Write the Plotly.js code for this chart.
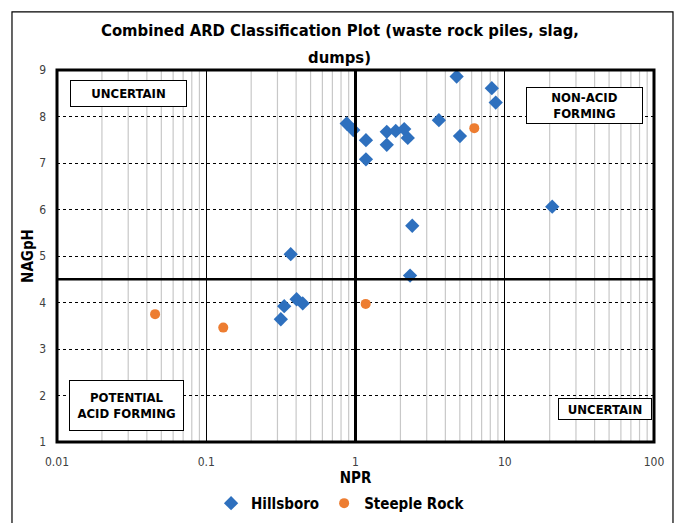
<!DOCTYPE html>
<html>
<head>
<meta charset="utf-8">
<script src="https://cdn.plot.ly/plotly-3.0.1.min.js"></script>
<style>html,body{margin:0;padding:0;background:#fff;}#chart{width:677px;height:523px;}</style>
</head>
<body>
<div id="chart"></div>
<script>
// ---- Data ----
const hillsboroNPR   = [0.873, 0.966, 1.175, 1.175, 1.62, 1.62, 1.86, 2.12, 2.24, 3.62, 4.76, 5.01, 8.19, 8.70, 20.8, 2.40, 2.32, 0.368, 0.333, 0.403, 0.443, 0.316];
const hillsboroNAGpH = [7.85, 7.71, 7.49, 7.08, 7.39, 7.67, 7.69, 7.73, 7.54, 7.92, 8.86, 7.58, 8.61, 8.30, 6.06, 5.65, 4.58, 5.04, 3.92, 4.07, 3.98, 3.64];
const steepleNPR     = [6.25, 1.17, 0.130, 0.0454];
const steepleNAGpH   = [7.75, 3.97, 3.46, 3.75];
const xTickVals = [0.01, 0.1, 1, 10, 100];
const xTickText = ['0.01', '0.1', '1', '10', '100'];
const yTickVals = [1, 2, 3, 4, 5, 6, 7, 8, 9];
const nprThreshold = 1;
const nagThreshold = 4.5;
const titleLines = ['Combined ARD Classification Plot (waste rock piles, slag,', 'dumps)'];
const regionLabels = ['UNCERTAIN', 'NON-ACID<br>FORMING', 'POTENTIAL<br>ACID FORMING', 'UNCERTAIN'];

const FONT = '"Liberation Sans Narrow", "DejaVu Sans Condensed", "Open Sans", sans-serif';

const traces = [
  {x: hillsboroNPR, y: hillsboroNAGpH, name: 'Hillsboro', type: 'scatter', mode: 'markers',
   marker: {symbol: 'diamond', size: 11, color: '#2E70BE'}},
  {x: steepleNPR, y: steepleNAGpH, name: 'Steeple Rock', type: 'scatter', mode: 'markers',
   marker: {symbol: 'circle', size: 10, color: '#ED7D31'}}
];

const shapes = [];
// minor vertical gridlines on the log axis
for (let d = -2; d < 2; d++) {
  for (let m = 2; m <= 9; m++) {
    shapes.push({type: 'line', xref: 'x', yref: 'paper', x0: m * Math.pow(10, d), x1: m * Math.pow(10, d),
      y0: 0, y1: 1, line: {color: '#c8c8c8', width: 1.2}, layer: 'below'});
  }
}
// threshold lines
shapes.push({type: 'line', xref: 'x', yref: 'paper', x0: nprThreshold, x1: nprThreshold, y0: 0, y1: 1, line: {color: '#000', width: 3}});
shapes.push({type: 'line', xref: 'paper', yref: 'y', x0: 0, x1: 1, y0: nagThreshold, y1: nagThreshold, line: {color: '#000', width: 2.5}});
// plot border
shapes.push({type: 'rect', xref: 'paper', yref: 'paper', x0: 0, x1: 1, y0: 0, y1: 1, line: {color: '#000', width: 3}});
// outer chart frame
shapes.push({type: 'rect', xref: 'paper', yref: 'paper', x0: -0.0754, x1: 1.0318, y0: -0.4, y1: 1.156, line: {color: '#000', width: 1.2}});

const boxFont = {family: FONT, size: 13, color: '#000', weight: 'bold'};
const boxBase = {xref: 'paper', yref: 'paper', xanchor: 'center', yanchor: 'middle', showarrow: false,
  bgcolor: '#fff', bordercolor: '#000', borderwidth: 1, borderpad: 0, font: boxFont};
const titleFont = {family: FONT, size: 16.5, color: '#000', weight: 'bold'};
const annotations = [
  {xref: 'paper', yref: 'paper', x: 0.474, y: 1.1075, xanchor: 'center', yanchor: 'middle', showarrow: false, text: titleLines[0], font: titleFont},
  {xref: 'paper', yref: 'paper', x: 0.474, y: 1.034, xanchor: 'center', yanchor: 'middle', showarrow: false, text: titleLines[1], font: titleFont},
  Object.assign({}, boxBase, {text: regionLabels[0], x: 0.1206, y: 0.9355, width: 115, height: 25}),
  Object.assign({}, boxBase, {text: regionLabels[1], x: 0.8836, y: 0.9046, width: 115, height: 35}),
  Object.assign({}, boxBase, {text: regionLabels[2], x: 0.1164, y: 0.0968, width: 113, height: 49}),
  Object.assign({}, boxBase, {text: regionLabels[3], x: 0.918, y: 0.0887, width: 92, height: 20})
];

const layout = {
  width: 677, height: 523,
  margin: {l: 57, r: 23, t: 70, b: 81, autoexpand: false},
  paper_bgcolor: '#fff', plot_bgcolor: '#fff',
  xaxis: {type: 'log', range: [-2, 2], tickvals: xTickVals, ticktext: xTickText,
          showgrid: true, gridcolor: '#000', gridwidth: 1, zeroline: false,
          ticks: '', showline: false, ticklabelstandoff: 11, automargin: false,
          tickfont: {family: FONT, size: 12, color: '#404040'},
          title: {text: 'NPR', font: {family: FONT, size: 15, color: '#000', weight: 'bold'}, standoff: 4}},
  yaxis: {range: [1, 9], tickvals: yTickVals, showgrid: true, gridcolor: '#000', gridwidth: 1, griddash: 'dot',
          zeroline: false, ticks: '', showline: false, ticklabelstandoff: 10, automargin: false,
          tickfont: {family: FONT, size: 12, color: '#404040'},
          title: {text: 'NAGpH', font: {family: FONT, size: 15, color: '#000', weight: 'bold'}, standoff: 1}},
  legend: {orientation: 'h', x: 0.475, xanchor: 'center', y: -0.165, yanchor: 'middle',
           font: {family: FONT, size: 15, color: '#000', weight: 'bold'}, itemwidth: 30},
  shapes: shapes,
  annotations: annotations,
  showlegend: true
};

Plotly.newPlot('chart', traces, layout, {displayModeBar: false, staticPlot: true});
</script>
</body>
</html>
